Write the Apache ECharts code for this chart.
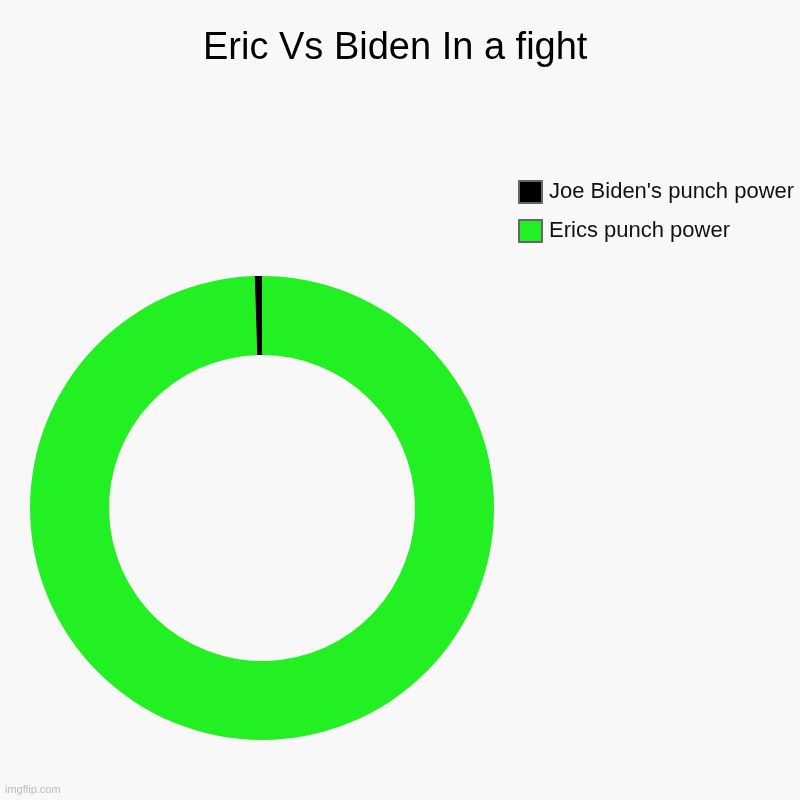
<!DOCTYPE html>
<html>
<head>
<meta charset="utf-8">
<style>
  html, body { margin: 0; padding: 0; background: #f8f8f8; }
  #chart { width: 800px; height: 800px; }
</style>
<script src="https://cdn.jsdelivr.net/npm/echarts@6/dist/echarts.min.js"></script>
</head>
<body>
<div id="chart"></div>
<script>
// chart data
const titleText = 'Eric Vs Biden In a fight'
const categories = ['Erics punch power', "Joe Biden's punch power"]
const values = [99.5, 0.5]
const colors = ['#22f022', '#000000']
const legendOrder = ["Joe Biden's punch power", 'Erics punch power']

const myChart = echarts.init(document.getElementById('chart'))

myChart.setOption({
  backgroundColor: '#f8f8f8',
  animation: false,
  title: {
    text: titleText,
    left: 203,
    top: 30,
    padding: 0,
    textStyle: {
      fontFamily: 'Liberation Sans',
      fontSize: 38,
      fontWeight: 'normal',
      color: '#000'
    }
  },
  legend: {
    orient: 'vertical',
    left: 518,
    top: 180,
    padding: 0,
    itemWidth: 23,
    itemHeight: 22,
    itemGap: 15,
    icon: 'rect',
    data: legendOrder,
    itemStyle: {
      borderColor: '#666',
      borderWidth: 2
    },
    textStyle: {
      fontFamily: 'Liberation Sans',
      fontSize: 22,
      color: '#111',
      padding: [3, 0, 0, 2]
    }
  },
  graphic: [{
    type: 'text',
    left: 5,
    top: 784,
    style: {
      text: 'imgflip.com',
      fontFamily: 'Liberation Sans',
      fontSize: 11,
      fill: '#bbb'
    }
  }],
  series: [{
    type: 'pie',
    center: [262, 508],
    radius: [153, 232],
    startAngle: 90,
    clockwise: true,
    label: { show: false },
    labelLine: { show: false },
    emphasis: { disabled: true },
    data: categories.map((name, i) => ({
      name: name,
      value: values[i],
      itemStyle: { color: colors[i] }
    }))
  }]
})

window.addEventListener('resize', () => myChart.resize(), false)
</script>
</body>
</html>
